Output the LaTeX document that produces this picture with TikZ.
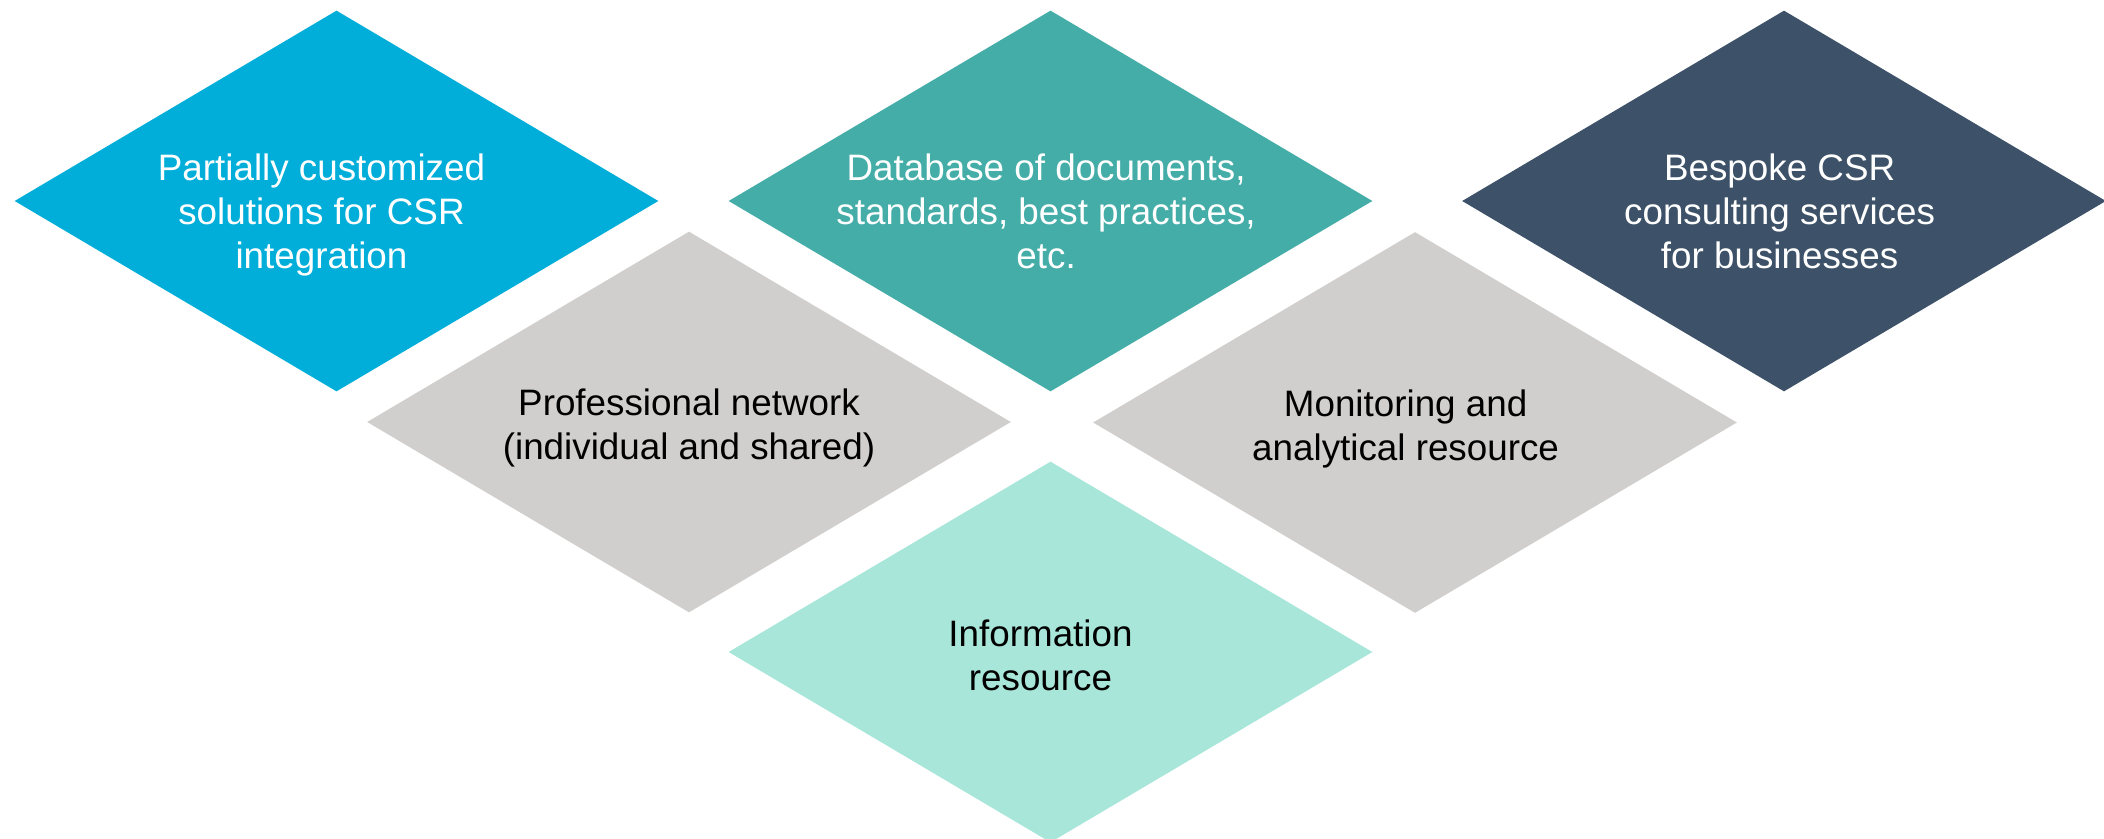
\documentclass[tikz,border=0pt]{standalone}
\usepackage{fontspec}
\setmainfont{Liberation Sans}
\usetikzlibrary{shapes.geometric}

\definecolor{csrblue}{RGB}{0,174,217}
\definecolor{csrteal}{RGB}{69,173,168}
\definecolor{csrnavy}{RGB}{61,82,104}
\definecolor{csrgray}{RGB}{208,207,206}
\definecolor{csrmint}{RGB}{168,230,218}

\begin{document}
\begin{tikzpicture}[x = 0.5pt, y = -0.5pt,
	tile/.style = {diamond, minimum width = 322pt, minimum height = 190.5pt, inner sep = 0pt},
	txt/.style = {align = center, font = \fontsize{18.4pt}{22pt}\selectfont, inner sep = 0pt,
		execute at begin node = \strut, execute at end node = \strut},
	lines3/.style = {txt, yshift = -8.6pt},
	lines2/.style = {txt, yshift = -4.4pt}]
	%	canvas
	\useasboundingbox (0, 0) rectangle (2104, 839);
	
	%	top row
	\node[tile, fill = csrblue] (custom) at (336.5, 201) {};
	\node[tile, fill = csrteal] (database) at (1050.5, 201) {};
	\node[tile, fill = csrnavy] (bespoke) at (1784, 201) {};
	
	%	middle row
	\node[tile, fill = csrgray] (network) at (689, 422) {};
	\node[tile, fill = csrgray] (monitoring) at (1415, 422.5) {};
	
	%	bottom
	\node[tile, fill = csrmint] (information) at (1050.5, 652) {};
	
	%	texts
	\node[lines3, white, xshift = -7.5pt] (custom-txt) at (custom) {Partially customized\\solutions for CSR\\integration};
	\node[lines3, white, xshift = -2.2pt] (database-txt) at (database) {Database of documents,\\standards, best practices,\\etc.};
	\node[lines3, white, xshift = -2.2pt] (bespoke-txt) at (bespoke) {Bespoke CSR\\consulting services\\for businesses};
	\node[lines2] (network-txt) at (network) {Professional network\\(individual and shared)};
	\node[lines2, xshift = -4.7pt] (monitoring-txt) at (monitoring) {Monitoring and\\analytical resource};
	\node[lines2, xshift = -5pt, yshift = -0.6pt] (information-txt) at (information) {Information\\resource};
\end{tikzpicture}
\end{document}
